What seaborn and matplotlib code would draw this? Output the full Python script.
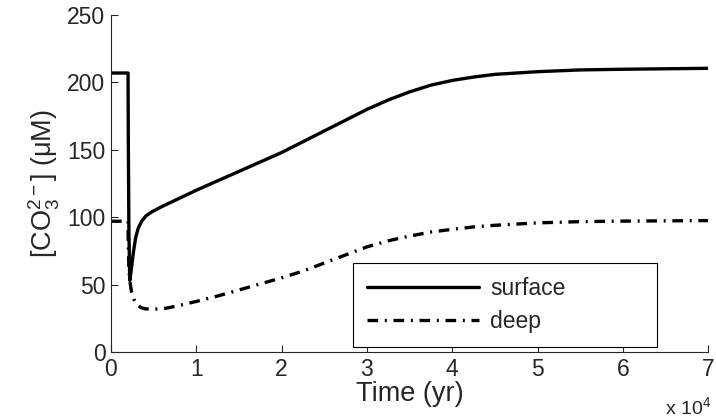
import numpy as np
import pandas as pd
import seaborn as sns
import matplotlib
matplotlib.use('Agg')
import matplotlib.pyplot as plt

# values (time in years, carbonate ion in uM)
surface_t = [0, 2000, 2030, 2100, 2200, 2300, 2450, 2650, 2900, 3200, 3600, 4100, 4800,
             6000, 8000, 10000, 12500, 15000, 17500, 20000, 22500, 25000, 27500, 30000,
             32500, 35000, 37500, 40000, 42500, 45000, 50000, 55000, 60000, 70000]
surface_co3 = [207, 207, 160, 90, 53, 57, 65, 75, 85, 92, 97, 101, 104,
               108, 114, 120, 127, 134, 141, 148, 156, 164, 172, 180,
               187, 193, 198, 201.5, 204, 206, 208, 209.3, 209.8, 210.5]

deep_t = [0, 2000, 2030, 2100, 2200, 2400, 2700, 3000, 3500, 4000, 5000, 6500, 8000,
          10000, 12500, 15000, 17500, 20000, 22500, 25000, 27500, 30000, 32500, 35000,
          37500, 40000, 42500, 45000, 50000, 55000, 60000, 70000]
deep_co3 = [97, 97, 80, 62, 53, 45, 39, 35.5, 33, 32, 31.7, 32.5, 34.5,
            37.5, 41.5, 46, 50.5, 55, 60, 66, 72, 78, 82.5, 86,
            89, 91, 92.8, 94, 95.8, 96.7, 97.1, 97.5]

x_ticks = [0, 10000, 20000, 30000, 40000, 50000, 60000, 70000]
x_tick_labels = ['0', '1', '2', '3', '4', '5', '6', '7']
y_ticks = [0, 50, 100, 150, 200, 250]

surf_df = pd.DataFrame({'t': surface_t, 'co3': surface_co3})
deep_df = pd.DataFrame({'t': deep_t, 'co3': deep_co3})

sns.set_style('ticks')
plt.rcParams['font.family'] = ['Liberation Sans', 'DejaVu Sans']
plt.rcParams['mathtext.fontset'] = 'custom'
plt.rcParams['mathtext.rm'] = 'Liberation Sans'
plt.rcParams['mathtext.it'] = 'Liberation Sans'

fig = plt.figure(figsize=(7.16, 4.19), dpi=100)
ax = fig.add_axes([0.155, 0.160, 0.834, 0.804])

dash_dot = (3.2, 2.0, 0.6, 2.0)
sns.lineplot(data=surf_df, x='t', y='co3', ax=ax, color='black', lw=2.4,
             label='surface', sort=False)
sns.lineplot(data=deep_df, x='t', y='co3', ax=ax, color='black', lw=2.4,
             label='deep', sort=False, dashes=False)
ax.lines[1].set_dashes(dash_dot)

ax.set_xlim(0, 70000)
ax.set_ylim(0, 250)
ax.set_xticks(x_ticks)
ax.set_xticklabels(x_tick_labels)
ax.set_yticks(y_ticks)
ax.tick_params(direction='in', length=5, width=0.8, labelsize=16.5, pad=4)
for s in ['top', 'right']:
    ax.spines[s].set_visible(False)
for s in ['left', 'bottom']:
    ax.spines[s].set_linewidth(0.8)

ax.set_xlabel('Time (yr)', fontsize=19.5, labelpad=0)
ax.set_ylabel(r'[CO$_3^{2-}$] (μM)', fontsize=19.5, labelpad=4)
fig.text(0.993, 0.003, r'x 10$^4$', ha='right', va='bottom', fontsize=14)

leg = ax.legend(loc='lower left', bbox_to_anchor=(0.405, 0.015, 0.51, 0.234),
                mode='expand', fancybox=False, edgecolor='black', framealpha=1,
                fontsize=16.5, handlelength=4.9, handletextpad=0.5,
                borderaxespad=0, borderpad=0.6, labelspacing=0.45)
leg.get_frame().set_linewidth(0.8)
leg.get_lines()[1].set_dashes(dash_dot)

fig.savefig('out.png', dpi=100)
